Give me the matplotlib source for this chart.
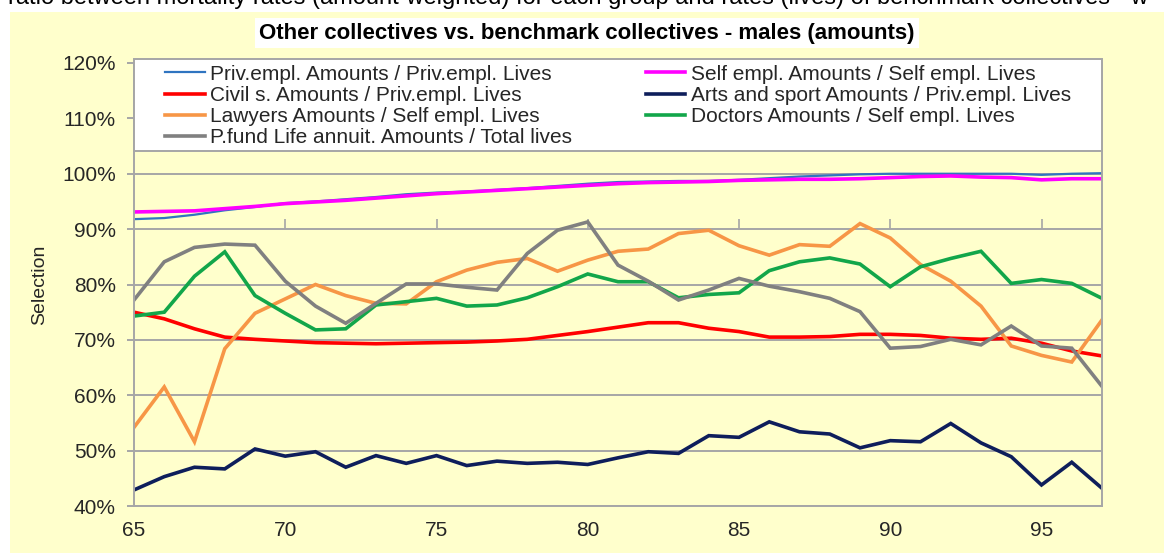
import matplotlib
matplotlib.use("Agg")
import matplotlib.pyplot as plt
from matplotlib.patches import Rectangle
from matplotlib.ticker import PercentFormatter

plt.rcParams['font.family'] = ['Liberation Sans', 'DejaVu Sans']

# data (ratio, %) by age
ages = list(range(65, 98))

priv_empl = [91.8, 92.0, 92.6, 93.4, 94.0, 94.7, 95.0, 95.4, 95.8, 96.3, 96.6,
             96.8, 97.1, 97.4, 97.8, 98.2, 98.5, 98.6, 98.7, 98.7, 98.9, 99.2,
             99.5, 99.7, 99.9, 100.0, 100.0, 100.0, 100.0, 100.0, 99.8, 100.0, 100.1]
self_empl = [93.1, 93.2, 93.3, 93.7, 94.1, 94.6, 94.9, 95.2, 95.6, 96.0, 96.4,
             96.7, 97.0, 97.3, 97.6, 97.9, 98.2, 98.4, 98.5, 98.6, 98.8, 98.9,
             99.0, 99.0, 99.1, 99.3, 99.5, 99.6, 99.4, 99.3, 98.9, 99.1, 99.1]
civil_s = [75.0, 73.8, 72.0, 70.5, 70.1, 69.8, 69.5, 69.4, 69.3, 69.4, 69.5,
           69.6, 69.8, 70.1, 70.8, 71.5, 72.3, 73.1, 73.1, 72.1, 71.5, 70.5,
           70.5, 70.6, 71.0, 71.0, 70.8, 70.3, 70.1, 70.3, 69.4, 68.0, 67.1]
arts_sport = [42.9, 45.3, 47.0, 46.7, 50.3, 49.0, 49.8, 47.0, 49.1, 47.7, 49.1,
              47.3, 48.1, 47.7, 47.9, 47.5, 48.7, 49.8, 49.5, 52.7, 52.4, 55.2,
              53.4, 53.0, 50.5, 51.8, 51.6, 54.9, 51.4, 48.9, 43.8, 47.9, 43.2]
lawyers = [54.2, 61.5, 51.6, 68.4, 74.8, 77.4, 80.0, 78.0, 76.6, 76.5, 80.5,
           82.6, 84.0, 84.7, 82.4, 84.4, 86.0, 86.4, 89.2, 89.8, 87.0, 85.3,
           87.2, 86.9, 91.0, 88.4, 83.6, 80.6, 76.1, 68.9, 67.2, 66.0, 73.6]
doctors = [74.3, 75.0, 81.5, 85.9, 78.0, 74.8, 71.8, 72.0, 76.3, 76.9, 77.5,
           76.1, 76.3, 77.6, 79.6, 81.9, 80.5, 80.5, 77.6, 78.2, 78.5, 82.5,
           84.1, 84.8, 83.7, 79.6, 83.2, 84.7, 86.0, 80.2, 80.9, 80.2, 77.5]
pfund = [77.2, 84.1, 86.7, 87.3, 87.1, 80.6, 76.1, 73.0, 76.6, 80.1, 80.1,
         79.5, 79.0, 85.6, 89.8, 91.3, 83.5, 80.6, 77.2, 79.0, 81.1, 79.7,
         78.7, 77.5, 75.1, 68.5, 68.8, 70.1, 69.1, 72.5, 68.9, 68.5, 61.6]

labels = ["Priv.empl. Amounts / Priv.empl. Lives",
          "Self empl. Amounts / Self empl. Lives",
          "Civil s. Amounts / Priv.empl. Lives",
          "Arts and sport Amounts / Priv.empl. Lives",
          "Lawyers Amounts / Self empl. Lives",
          "Doctors Amounts / Self empl. Lives",
          "P.fund Life annuit. Amounts / Total lives"]
series = [priv_empl, self_empl, civil_s, arts_sport, lawyers, doctors, pfund]
colors = ['#2F74C0', '#FF00FF', '#FF0000', '#0E1E5B', '#F79646', '#12A64A', '#808080']
widths = [1.6, 2.6, 2.6, 2.6, 2.6, 2.6, 2.6]

title = "Other collectives vs. benchmark collectives - males (amounts)"
top_text = ("ratio between mortality rates (amount-weighted) for each group and "
            "rates (lives) of benchmark collectives - w")

bg = '#FFFFCC'
grid_c = '#A6A6A6'
txt_c = '#262626'

fig = plt.figure(figsize=(11.64, 5.55), dpi=100, facecolor='white')
fig.patches.append(Rectangle((10 / 1164, 2 / 555), 1 - 10 / 1164, 1 - 14 / 555,
                             transform=fig.transFigure, facecolor=bg,
                             edgecolor='none', zorder=-5))

ax = fig.add_axes([134 / 1164, 1 - 506 / 555, 968 / 1164, 443 / 555])
ax.set_facecolor(bg)

handles = {}
for lab, vals, c, w in zip(labels, series, colors, widths):
    ln, = ax.plot(ages, vals, color=c, lw=w, label=lab, solid_joinstyle='miter')
    handles[lab] = ln

ax.set_xlim(65, 97)
ax.set_ylim(40, 120)
ax.set_yticks(range(40, 121, 10))
ax.yaxis.set_major_formatter(PercentFormatter(decimals=0))
ax.set_xticks(range(65, 96, 5))
ax.grid(axis='y', color=grid_c, lw=1.4)
ax.set_axisbelow(True)
for s in ['left', 'right', 'bottom']:
    ax.spines[s].set_color(grid_c)
    ax.spines[s].set_linewidth(1.4)
ax.spines['top'].set_visible(False)
ax.tick_params(axis='x', length=0, pad=11, labelsize=15, labelcolor=txt_c)
ax.tick_params(axis='y', length=5, width=1.4, color=grid_c, pad=8,
               labelsize=15, labelcolor=txt_c)
ax.set_ylabel("Selection", fontsize=14, color=txt_c)
ax.yaxis.set_label_coords(-0.089, 0.5)

# small ticks on the 90% line (category axis crossing)
sec = ax.secondary_xaxis(0.625)
sec.set_xticks(range(65, 96, 5))
sec.tick_params(length=7, width=1.2, color=grid_c, labeltop=False, labelbottom=False)
for s in sec.spines.values():
    s.set_visible(False)

# legend box spanning the full plot width
ax.add_patch(Rectangle((0, 0.801), 1, 0.208, transform=ax.transAxes,
                       facecolor='white', edgecolor=grid_c, lw=1.4,
                       clip_on=False, zorder=4))
order = [labels[0], labels[2], labels[4], labels[6], labels[1], labels[3], labels[5]]
leg = ax.legend([handles[l] for l in order], order, ncol=2, mode='expand',
                loc='lower left', bbox_to_anchor=(0.028, 0.801, 0.944, 0.208),
                borderaxespad=0, fontsize=15, handlelength=1.9,
                handletextpad=0.25, labelspacing=0.1, borderpad=0.2,
                frameon=False)
leg.set_zorder(5)
for t in leg.get_texts():
    t.set_color(txt_c)

fig.text(0.504, 1 - 33 / 555, title, ha='center', va='center', fontsize=16,
         fontweight='bold', color='black',
         bbox=dict(facecolor='white', edgecolor='none', pad=3))
fig.text(8 / 1164, 1 - 4 / 555, top_text, ha='left', va='baseline',
         fontsize=17, color='black')

fig.savefig("out.png", dpi=100, facecolor='white')
